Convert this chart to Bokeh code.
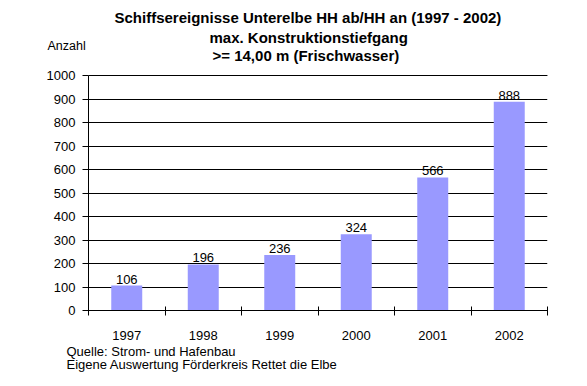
from bokeh.plotting import figure
from bokeh.models import ColumnDataSource, FixedTicker, Range1d, Title
from bokeh.core.properties import value
from bokeh.embed import file_html
from bokeh.resources import INLINE

years = ["1997", "1998", "1999", "2000", "2001", "2002"]
counts = [106, 196, 236, 324, 566, 888]
y_ticks = [0, 100, 200, 300, 400, 500, 600, 700, 800, 900, 1000]
y_max = 1000
title_lines = [
    "Schiffsereignisse Unterelbe HH ab/HH an (1997 - 2002)",
    "max. Konstruktionstiefgang",
    ">= 14,00 m (Frischwasser)",
]
y_label = "Anzahl"
footer_lines = ["Quelle: Strom- und Hafenbau", "Eigene Auswertung Förderkreis Rettet die Elbe"]

FONT = "Liberation Sans"
n = len(years)
xs = [i + 0.5 for i in range(n)]
src = ColumnDataSource(dict(x=xs, y=counts, lbl=[str(c) for c in counts]))

# frame: 247 px tall, 1000 units = 235 px; axis line limited to 0..1000
p = figure(width=587, height=386, output_backend="svg", toolbar_location=None,
           x_range=Range1d(0, n), y_range=Range1d(0, y_max * 247 / 235),
           min_border_left=88, min_border_right=40, min_border_top=63, min_border_bottom=76)
p.outline_line_color = None
p.background_fill_color = "white"
p.border_fill_color = "white"

# top gridline drawn as a glyph as well
p.segment(x0=[0], x1=[n], y0=[y_ticks[-1]], y1=[y_ticks[-1]], line_color="black", line_width=1)

p.vbar(x="x", top="y", width=0.405, bottom=0, source=src, fill_color="#9999FF", line_color=None)
p.text(x="x", y="y", text="lbl", source=src, text_align="center", text_baseline="bottom",
       y_offset=-2, text_font=value(FONT), text_font_size="13px", text_color="black")

# y axis
p.yaxis.ticker = FixedTicker(ticks=y_ticks)
p.yaxis.bounds = (0, y_max)
p.yaxis.major_tick_in = 0
p.yaxis.major_tick_out = 6
p.yaxis.minor_tick_line_color = None
p.yaxis.major_label_standoff = 7
p.yaxis.axis_line_color = "black"
p.yaxis.major_tick_line_color = "black"
p.yaxis.major_label_text_font = FONT
p.yaxis.major_label_text_font_size = "13px"
p.yaxis.major_label_text_color = "black"

# x axis: labels at centers, ticks at category boundaries
p.xaxis.ticker = FixedTicker(ticks=xs, minor_ticks=list(range(n + 1)))
p.xaxis.major_label_overrides = {x: y for x, y in zip(xs, years)}
p.xaxis.major_tick_in = 0
p.xaxis.major_tick_out = 0
p.xaxis.minor_tick_in = 4
p.xaxis.minor_tick_out = 5
p.xaxis.minor_tick_line_color = "black"
p.xaxis.major_label_standoff = 15
p.xaxis.axis_line_color = "black"
p.xaxis.major_label_text_font = FONT
p.xaxis.major_label_text_font_size = "13px"
p.xaxis.major_label_text_color = "black"

p.xgrid.grid_line_color = None
p.ygrid.grid_line_color = "black"
p.ygrid.grid_line_alpha = 1.0
p.ygrid.grid_line_width = 1

def ttl(text, size, bold, align, offset, standoff):
    return Title(text=text, align=align, offset=offset, standoff=standoff,
                 text_font=FONT, text_font_size=size,
                 text_font_style="bold" if bold else "normal", text_color="black")

# "above" stack, nearest to frame first
p.add_layout(ttl(title_lines[2], "15px", True, "left", 124, 0), "above")
p.add_layout(ttl(y_label, "12.5px", False, "left", -41, -17), "above")
p.add_layout(ttl(title_lines[1], "15px", True, "left", 121, -3), "above")
p.add_layout(ttl(title_lines[0], "15px", True, "left", 26, 5), "above")

# footer below x axis
p.add_layout(ttl(footer_lines[0], "13px", False, "left", -22, -1), "below")
p.add_layout(ttl(footer_lines[1], "13px", False, "left", -22, -8), "below")

open("out.html", "w").write(file_html(p, INLINE))
